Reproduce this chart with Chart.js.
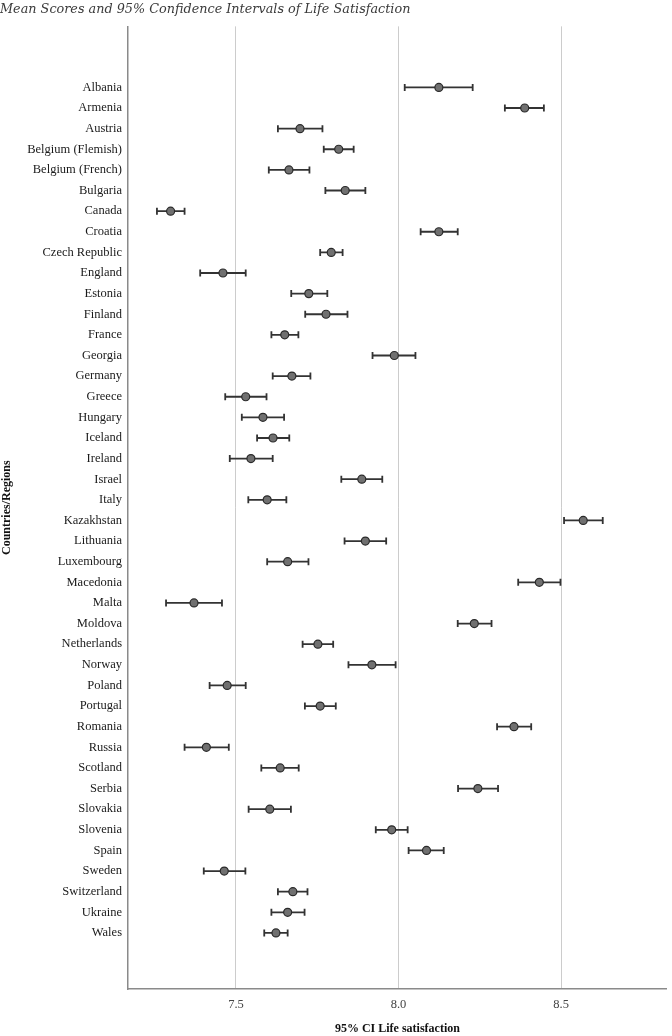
<!DOCTYPE html>
<html>
<head>
<meta charset="utf-8">
<script src="https://cdn.jsdelivr.net/npm/chart.js@4.4.1/dist/chart.umd.min.js"></script>
<style>
  html, body { margin: 0; padding: 0; background: #fff; }
  #wrap { width: 672px; height: 1036px; }
</style>
</head>
<body>
<div id="wrap"><canvas id="myChart" width="672" height="1036"></canvas></div>
<script>
// data
const countries = ['Albania', 'Armenia', 'Austria', 'Belgium (Flemish)', 'Belgium (French)', 'Bulgaria',
    'Canada', 'Croatia', 'Czech Republic', 'England', 'Estonia', 'Finland', 'France', 'Georgia',
    'Germany', 'Greece', 'Hungary', 'Iceland', 'Ireland', 'Israel', 'Italy', 'Kazakhstan',
    'Lithuania', 'Luxembourg', 'Macedonia', 'Malta', 'Moldova', 'Netherlands', 'Norway', 'Poland',
    'Portugal', 'Romania', 'Russia', 'Scotland', 'Serbia', 'Slovakia', 'Slovenia', 'Spain',
    'Sweden', 'Switzerland', 'Ukraine', 'Wales'];
const means = [8.124, 8.388, 7.697, 7.816, 7.663, 7.836, 7.299, 8.124, 7.793, 7.460, 7.724,
    7.777, 7.650, 7.987, 7.672, 7.530, 7.583, 7.614, 7.546, 7.887, 7.596, 8.568,
    7.898, 7.659, 8.433, 7.371, 8.233, 7.752, 7.918, 7.473, 7.759, 8.355, 7.409, 7.636,
    8.244, 7.604, 7.979, 8.086, 7.464, 7.675, 7.659, 7.623];
const lower = [8.019, 8.327, 7.629, 7.770, 7.601, 7.775, 7.257, 8.068, 7.759, 7.390, 7.670,
    7.713, 7.609, 7.920, 7.613, 7.467, 7.518, 7.565, 7.481, 7.824, 7.538, 8.509,
    7.834, 7.596, 8.368, 7.285, 8.182, 7.705, 7.846, 7.419, 7.712, 8.303, 7.342, 7.578,
    8.183, 7.539, 7.930, 8.031, 7.401, 7.629, 7.609, 7.587];
const upper = [8.228, 8.447, 7.766, 7.862, 7.726, 7.898, 7.342, 8.182, 7.828, 7.530, 7.781,
    7.843, 7.692, 8.052, 7.729, 7.594, 7.648, 7.664, 7.613, 7.950, 7.655, 8.628,
    7.962, 7.723, 8.498, 7.457, 8.286, 7.799, 7.991, 7.530, 7.807, 8.408, 7.478, 7.693,
    8.306, 7.669, 8.028, 8.139, 7.529, 7.720, 7.711, 7.659];
const xTicks = [7.5, 8.0, 8.5];

const serif = '"Liberation Serif", "Times New Roman", serif';

// whiskers for the confidence intervals, drawn under the points
const errorBars = {
    id: 'errorBars',
    beforeDatasetsDraw(chart) {
        const ctx = chart.ctx;
        const x = chart.scales.x, y = chart.scales.y;
        ctx.save();
        ctx.strokeStyle = '#333333';
        ctx.lineWidth = 1.8;
        for (let i = 0; i < countries.length; i++) {
            const py = y.getPixelForValue(i);
            const x1 = x.getPixelForValue(lower[i]);
            const x2 = x.getPixelForValue(upper[i]);
            ctx.beginPath();
            ctx.moveTo(x1, py); ctx.lineTo(x2, py);
            ctx.moveTo(x1, py - 3.5); ctx.lineTo(x1, py + 3.5);
            ctx.moveTo(x2, py - 3.5); ctx.lineTo(x2, py + 3.5);
            ctx.stroke();
        }
        ctx.restore();
    }
};

new Chart(document.getElementById('myChart').getContext('2d'), {
    type: 'scatter',
    data: {
        datasets: [{
            label: 'Mean',
            data: means.map((m, i) => ({ x: m, y: i })),
            backgroundColor: '#707070',
            borderColor: '#2a2a2a',
            borderWidth: 1.2,
            pointRadius: 4,
            pointHoverRadius: 4
        }]
    },
    options: {
        responsive: false,
        animation: false,
        layout: { padding: { left: 0, right: 4, top: 0, bottom: 0 } },
        plugins: {
            legend: { display: false },
            tooltip: { enabled: false },
            title: {
                display: true,
                text: 'Mean Scores and 95% Confidence Intervals of Life Satisfaction',
                align: 'start',
                color: '#3a3a3a',
                font: { family: '"DejaVu Serif", serif', size: 12.8, style: 'italic', weight: 'normal' },
                padding: { top: 2, bottom: 9 }
            }
        },
        scales: {
            x: {
                type: 'linear',
                min: 7.168,
                max: 8.825,
                afterBuildTicks: (axis) => { axis.ticks = xTicks.map(v => ({ value: v })); },
                afterFit: (axis) => { axis.height = 47; },
                grid: { color: '#cccccc', lineWidth: 1, drawTicks: false },
                border: { display: true, color: '#8a8a8a', width: 1.5 },
                ticks: {
                    padding: 8,
                    color: '#444444',
                    font: { family: serif, size: 12.5 },
                    callback: (v) => Number(v).toFixed(1)
                },
                title: {
                    display: true,
                    text: '95% CI Life satisfaction',
                    color: '#111111',
                    font: { family: serif, size: 12, weight: 'bold' },
                    padding: { top: 6, bottom: 0 }
                }
            },
            y: {
                type: 'linear',
                reverse: true,
                min: -2.96,
                max: 43.72,
                afterBuildTicks: (axis) => { axis.ticks = countries.map((c, i) => ({ value: i })); },
                afterFit: (axis) => { axis.width = 128; },
                grid: { display: false, drawTicks: false },
                border: { display: true, color: '#8a8a8a', width: 1.5 },
                ticks: {
                    padding: 6,
                    color: '#1a1a1a',
                    font: { family: serif, size: 12.5 },
                    autoSkip: false,
                    callback: (v) => countries[v] || ''
                },
                title: {
                    display: true,
                    text: 'Countries/Regions',
                    color: '#111111',
                    font: { family: serif, size: 12, weight: 'bold' },
                    padding: { top: 0, bottom: 0 }
                }
            }
        }
    },
    plugins: [errorBars]
});
</script>
</body>
</html>
